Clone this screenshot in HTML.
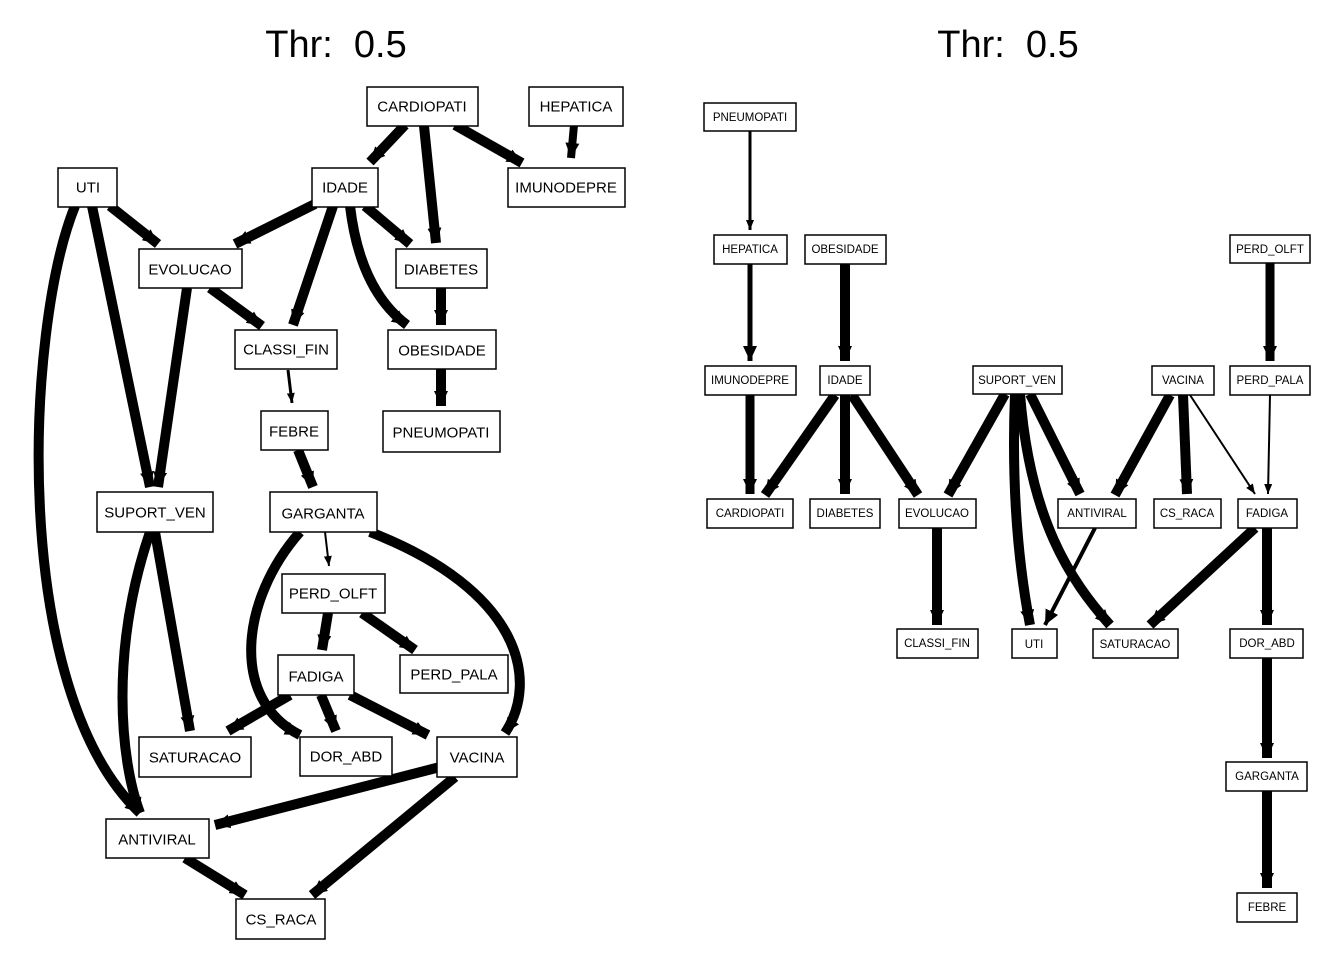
<!DOCTYPE html>
<html><head><meta charset="utf-8"><style>
html,body{margin:0;padding:0;background:#fff;}
svg{display:block;}
text{font-family:"Liberation Sans",sans-serif;fill:#000;}
.t{font-size:38px;text-anchor:middle;}
.n{font-size:15px;text-anchor:middle;dominant-baseline:central;}
.s{font-size:11.5px;text-anchor:middle;dominant-baseline:central;}
rect{fill:#fff;stroke:#000;stroke-width:1.5;}
.e{fill:none;stroke:#000;}
</style></head><body>
<svg width="1344" height="960" viewBox="0 0 1344 960" xmlns="http://www.w3.org/2000/svg">
<defs>
<marker id="a" markerUnits="userSpaceOnUse" markerWidth="16" markerHeight="14" refX="15" refY="7" orient="auto"><path d="M0,0 L15,7 L0,14 Z" fill="#000"/></marker>
<marker id="b" markerUnits="userSpaceOnUse" markerWidth="10" markerHeight="10" refX="10" refY="5" orient="auto"><path d="M0,1 L10,5 L0,9 Z" fill="#000"/></marker>
</defs>
<text class="t" x="336" y="57">Thr:&#160; 0.5</text>
<text class="t" x="1008" y="57">Thr:&#160; 0.5</text>

<g class="e" stroke-width="10" marker-end="url(#a)">
<path d="M405,125 L370,162"/>
<path d="M424,126 L436,243"/>
<path d="M455,125 L522,163"/>
<path d="M574,125 L571,158" stroke-width="8"/>
<path d="M110,206 L158,244"/>
<path d="M92,206 L150,487"/>
<path d="M75,206 C25,330 10,690 140,813"/>
<path d="M187,288 L158,487"/>
<path d="M315,204 L235,244"/>
<path d="M333,206 L293,325"/>
<path d="M350,206 Q360,290 407,325"/>
<path d="M365,206 L410,244"/>
<path d="M210,288 L262,326"/>
<path d="M441,288 L441,325"/>
<path d="M441,369 L441,406"/>
<path d="M288,370 L292,403" stroke-width="3" marker-end="url(#b)"/>
<path d="M298,450 L313,487"/>
<path d="M325,532 L329,566" stroke-width="2" marker-end="url(#b)"/>
<path d="M300,532 C240,600 230,700 300,735"/>
<path d="M370,532 C520,590 540,680 505,733"/>
<path d="M155,532 L190,731"/>
<path d="M150,532 C110,650 120,760 140,813"/>
<path d="M328,613 L322,650"/>
<path d="M362,613 L415,650"/>
<path d="M290,695 L228,731"/>
<path d="M321,695 L336,731"/>
<path d="M350,695 L428,735"/>
<path d="M440,767 L215,825"/>
<path d="M455,777 L312,895"/>
<path d="M185,858 L245,895"/>

<path d="M750,131 L750,230" stroke-width="3" marker-end="url(#b)"/>
<path d="M750,264 L750,361" stroke-width="5"/>
<path d="M845,264 L845,361"/>
<path d="M1270,263 L1270,361" stroke-width="9"/>
<path d="M750,395 L750,494" stroke-width="9"/>
<path d="M835,395 L765,495"/>
<path d="M845,395 L845,494"/>
<path d="M852,395 L918,495"/>
<path d="M1005,394 L948,495"/>
<path d="M1015,394 Q1010,520 1030,625"/>
<path d="M1020,394 C1030,520 1070,580 1110,625"/>
<path d="M1030,394 L1080,494"/>
<path d="M1170,395 L1115,495"/>
<path d="M1183,395 L1187,494"/>
<path d="M1190,395 L1255,494" stroke-width="2" marker-end="url(#b)"/>
<path d="M1270,395 L1268,494" stroke-width="2" marker-end="url(#b)"/>
<path d="M937,528 L937,625"/>
<path d="M1095,528 L1045,625" stroke-width="4"/>
<path d="M1255,528 L1150,625"/>
<path d="M1267,528 L1267,625"/>
<path d="M1267,658 L1267,758"/>
<path d="M1267,791 L1267,888"/>
</g>

<g transform="translate(0,1)">
<rect x="367" y="86" width="111" height="39"/><text class="n" x="422" y="106">CARDIOPATI</text>
<rect x="529" y="86" width="94" height="39"/><text class="n" x="576" y="106">HEPATICA</text>
<rect x="58" y="167" width="59" height="39"/><text class="n" x="88" y="187">UTI</text>
<rect x="312" y="167" width="66" height="39"/><text class="n" x="345" y="187">IDADE</text>
<rect x="508" y="167" width="117" height="39"/><text class="n" x="566" y="187">IMUNODEPRE</text>
<rect x="139" y="248" width="103" height="39"/><text class="n" x="190" y="269">EVOLUCAO</text>
<rect x="396" y="248" width="91" height="39"/><text class="n" x="441" y="269">DIABETES</text>
<rect x="235" y="329" width="102" height="39"/><text class="n" x="286" y="349">CLASSI_FIN</text>
<rect x="388" y="329" width="108" height="39"/><text class="n" x="442" y="350">OBESIDADE</text>
<rect x="261" y="410" width="67" height="39"/><text class="n" x="294" y="431">FEBRE</text>
<rect x="383" y="410" width="117" height="41"/><text class="n" x="441" y="432">PNEUMOPATI</text>
<rect x="97" y="491" width="116" height="40"/><text class="n" x="155" y="512">SUPORT_VEN</text>
<rect x="270" y="491" width="107" height="40"/><text class="n" x="323" y="513">GARGANTA</text>
<rect x="282" y="573" width="103" height="39"/><text class="n" x="333" y="593">PERD_OLFT</text>
<rect x="278" y="654" width="76" height="40"/><text class="n" x="316" y="676">FADIGA</text>
<rect x="400" y="654" width="108" height="38"/><text class="n" x="454" y="674">PERD_PALA</text>
<rect x="139" y="736" width="112" height="40"/><text class="n" x="195" y="757">SATURACAO</text>
<rect x="300" y="736" width="92" height="39"/><text class="n" x="346" y="756">DOR_ABD</text>
<rect x="437" y="736" width="80" height="40"/><text class="n" x="477" y="757">VACINA</text>
<rect x="106" y="818" width="103" height="39"/><text class="n" x="157" y="839">ANTIVIRAL</text>
<rect x="236" y="898" width="89" height="40"/><text class="n" x="281" y="919">CS_RACA</text>

<rect x="704" y="102" width="92" height="28"/><text class="s" x="750" y="117">PNEUMOPATI</text>
<rect x="714" y="234" width="73" height="29"/><text class="s" x="750" y="249">HEPATICA</text>
<rect x="805" y="234" width="81" height="29"/><text class="s" x="845" y="249">OBESIDADE</text>
<rect x="1230" y="234" width="80" height="28"/><text class="s" x="1270" y="249">PERD_OLFT</text>
<rect x="705" y="365" width="91" height="29"/><text class="s" x="750" y="380">IMUNODEPRE</text>
<rect x="820" y="365" width="50" height="29"/><text class="s" x="845" y="380">IDADE</text>
<rect x="973" y="365" width="89" height="28"/><text class="s" x="1017" y="380">SUPORT_VEN</text>
<rect x="1152" y="365" width="62" height="29"/><text class="s" x="1183" y="380">VACINA</text>
<rect x="1230" y="365" width="80" height="29"/><text class="s" x="1270" y="380">PERD_PALA</text>
<rect x="707" y="498" width="86" height="29"/><text class="s" x="750" y="513">CARDIOPATI</text>
<rect x="810" y="498" width="70" height="29"/><text class="s" x="845" y="513">DIABETES</text>
<rect x="899" y="498" width="77" height="29"/><text class="s" x="937" y="513">EVOLUCAO</text>
<rect x="1058" y="498" width="78" height="29"/><text class="s" x="1097" y="513">ANTIVIRAL</text>
<rect x="1154" y="498" width="67" height="29"/><text class="s" x="1187" y="513">CS_RACA</text>
<rect x="1238" y="498" width="59" height="29"/><text class="s" x="1267" y="513">FADIGA</text>
<rect x="897" y="628" width="81" height="29"/><text class="s" x="937" y="643">CLASSI_FIN</text>
<rect x="1012" y="628" width="45" height="29"/><text class="s" x="1034" y="644">UTI</text>
<rect x="1093" y="628" width="85" height="29"/><text class="s" x="1135" y="644">SATURACAO</text>
<rect x="1230" y="628" width="73" height="29"/><text class="s" x="1267" y="643">DOR_ABD</text>
<rect x="1226" y="761" width="81" height="29"/><text class="s" x="1267" y="776">GARGANTA</text>
<rect x="1237" y="892" width="60" height="29"/><text class="s" x="1267" y="907">FEBRE</text>
</g>
</svg>
</body></html>
